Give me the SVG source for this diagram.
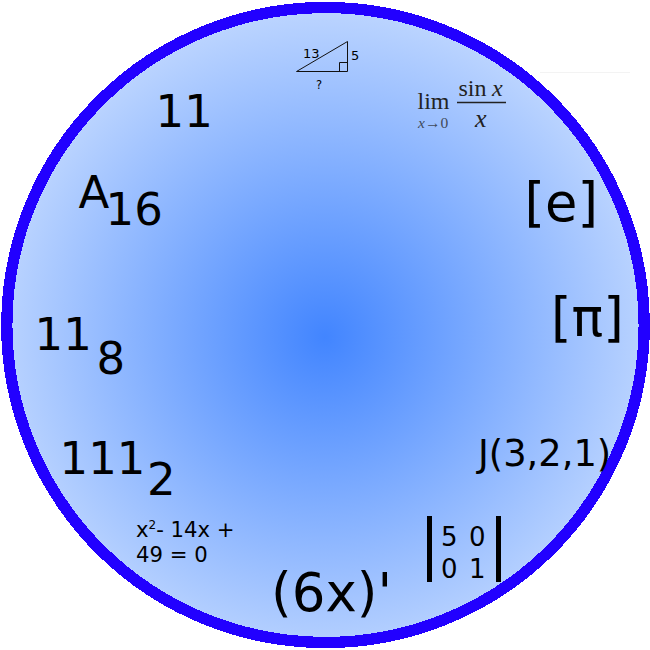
<svg xmlns="http://www.w3.org/2000/svg" width="650" height="650" viewBox="0 0 650 650">
<style>
text{font-family:"DejaVu Sans",sans-serif;fill:#000}
.s{font-family:"Liberation Serif",serif;fill:#222}
.i{font-style:italic}
.d{font-size:45px}
.b{font-size:52.700px}
</style>
<defs>
<radialGradient id="g" gradientUnits="userSpaceOnUse" cx="325" cy="337" r="325">
<stop offset="0" stop-color="#4285ff"/>
<stop offset="1" stop-color="#bbd4ff"/>
</radialGradient>
</defs>
<line x1="540" y1="72.500" x2="630" y2="72.500" stroke="#f3f3f3" stroke-width="1"/>
<g id="clock"><ellipse cx="325.500" cy="325" rx="318.700" ry="317.500" fill="url(#g)" stroke="#2200ff" stroke-width="11.300" shape-rendering="crispEdges"/></g>
<g id="triangle">
<path d="M296.500 71.500H347.500V41.500Z" fill="none" stroke="#111" stroke-width="1"/>
<path d="M339.500 71.500V62.500H347.500" fill="none" stroke="#111" stroke-width="1"/>
<text x="303" y="58" font-size="13">13</text>
<text x="351" y="60" font-size="13">5</text>
<text x="316" y="89" font-size="11.500">?</text>
</g>
<g id="limit">
<text class="s" x="417.500" y="109" font-size="24">lim</text>
<text class="s i" x="418" y="128" font-size="15.500" opacity=".75">x</text>
<text class="s" x="425" y="128" font-size="15.500" opacity=".75">→0</text>
<text class="s" x="458.500" y="96" font-size="24">sin</text>
<text class="s i" x="492" y="96" font-size="24">x</text>
<line x1="457" y1="102.500" x2="506" y2="102.500" stroke="#222" stroke-width="1.300"/>
<text class="s i" x="475" y="127" font-size="26">x</text>
</g>
<g id="n12"><text class="d" x="155.500" y="127">11</text></g>
<g id="n1"><text class="d" x="78.500" y="208">A</text><text class="d" x="105.500" y="224.500">16</text></g>
<g id="n2"><text class="b" x="524.500" y="220.500">[e]</text></g>
<g id="n3"><text class="b" x="551" y="335.500">[π]</text></g>
<g id="n9"><text class="d" x="34.500" y="349.500">11</text><text class="d" x="96.500" y="374">8</text></g>
<g id="n8"><text class="d" x="59.500" y="473.500">111</text><text class="d" x="147" y="494.500">2</text></g>
<g id="n4"><text x="478" y="466" font-size="36.800">J(3,2,1)</text></g>
<g id="n7">
<text x="136" y="537" font-size="21.200">x<tspan font-size="12" dy="-8">2</tspan><tspan dy="8">- 14x +</tspan></text>
<text x="136" y="562" font-size="21.200">49 = 0</text>
</g>
<g id="n6"><text x="271" y="610.500" font-size="53">(6x)'</text></g>
<g id="n5">
<rect x="427" y="516" width="5" height="66"/>
<rect x="496" y="516" width="5" height="66"/>
<text x="441" y="546" font-size="26">5</text><text x="469" y="546" font-size="26">0</text>
<text x="441" y="578" font-size="26">0</text><text x="469" y="578" font-size="26">1</text>
</g>
</svg>
